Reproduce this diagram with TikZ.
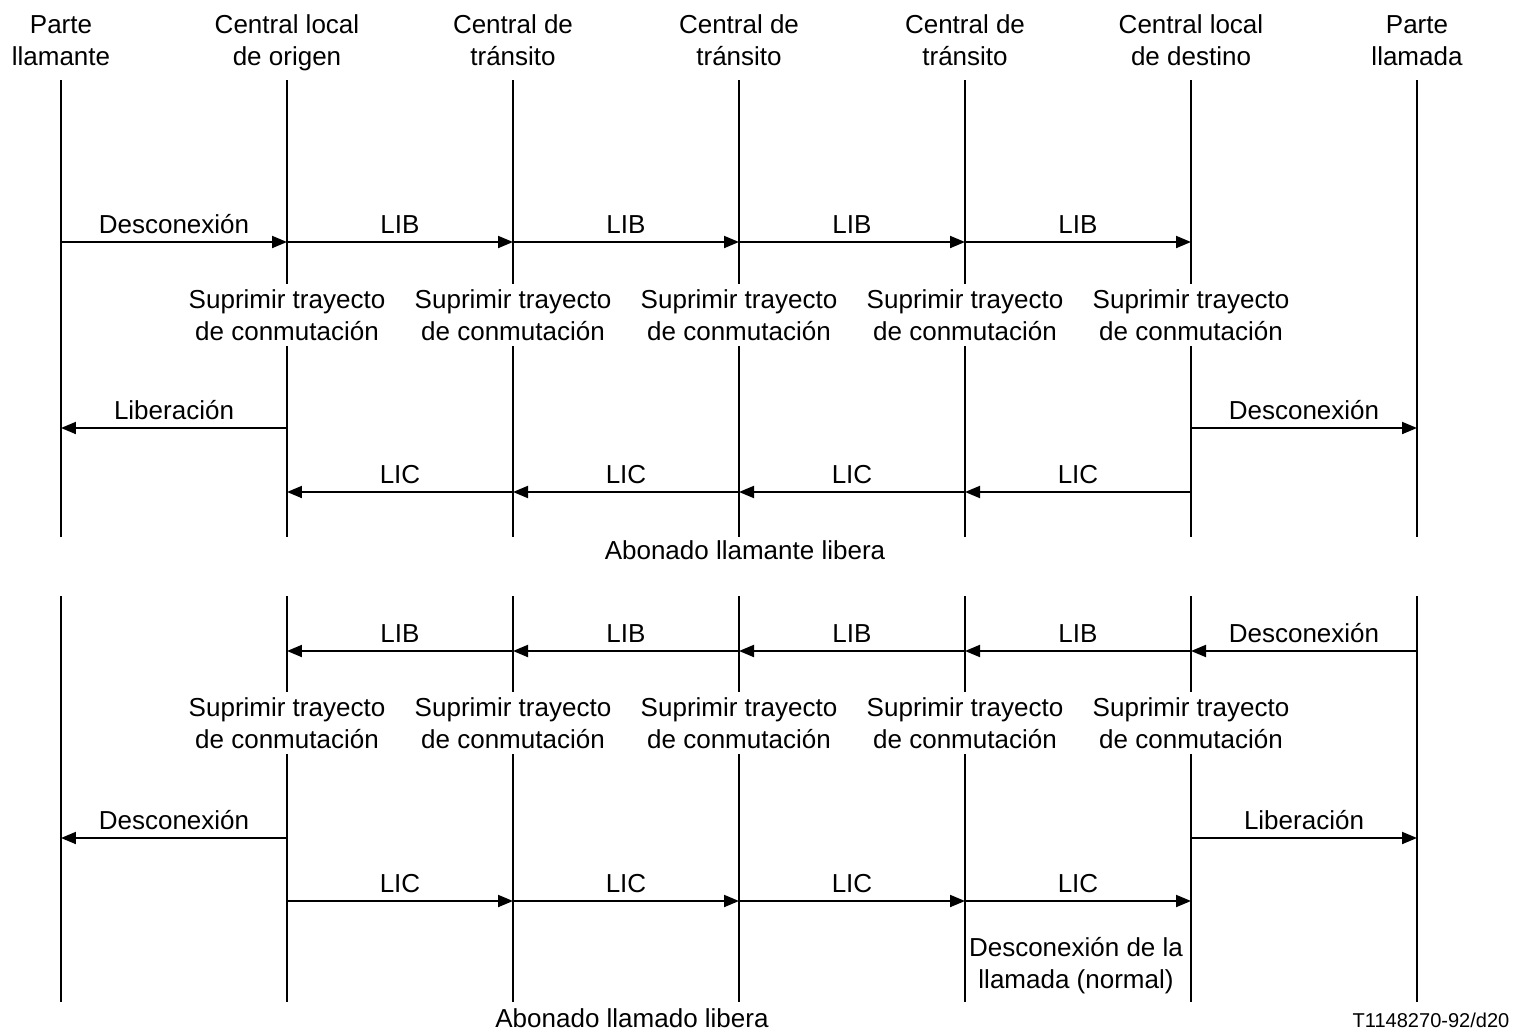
\documentclass[tikz,border=0pt]{standalone}
\usepackage{fontspec}
\setmainfont{Liberation Sans}
\usetikzlibrary{arrows.meta}

\tikzset{
  life/.style={line width=1.1pt},
  msg/.style={line width=1.1pt,-{Triangle[length=0.3cm,width=0.24cm]}},
  lbl/.style={anchor=base,yshift=5pt,inner sep=0pt},
  act/.style={fill=white,align=center,inner sep=3pt},
}

\begin{document}
\begin{tikzpicture}[x=0.02cm,y=-0.02cm,font=\fontsize{14.8}{18.2}\selectfont]
		\useasboundingbox (0,0) rectangle (1536,1031);
		%%%%% LIFELINES %%%%%
		\foreach \c/\x/\name in {1/61/{Parte\\llamante},2/287/{Central local\\de origen},
		    3/513/{Central de\\tránsito},4/739/{Central de\\tránsito},5/965/{Central de\\tránsito},
		    6/1191/{Central local\\de destino},7/1417/{Parte\\llamada}}{
			\node[align=center,anchor=north,inner sep=0pt] (h\c) at (\x,11) {\strut\name};
			\draw[life] (\x,80) -- (\x,537);
			\draw[life] (\x,596) -- (\x,1002);
			\foreach \r/\y in {1/242,2/315,3/428,4/492,5/651,6/723,7/838,8/901}
				\coordinate (p\c-\r) at (\x,\y);
		}
		
		%%%%% CALLING PARTY RELEASES %%%%%
		\draw[msg] (p1-1) -- node[lbl]{Desconexión} (p2-1);
		\foreach \i/\j in {2/3,3/4,4/5,5/6}
			\draw[msg] (p\i-1) -- node[lbl]{LIB} (p\j-1);
		\foreach \c in {2,...,6}
			\node[act] (s\c) at (p\c-2) {Suprimir trayecto\\de conmutación};
		\draw[msg] (p2-3) -- node[lbl]{Liberación} (p1-3);
		\draw[msg] (p6-3) -- node[lbl]{Desconexión} (p7-3);
		\foreach \i/\j in {6/5,5/4,4/3,3/2}
			\draw[msg] (p\i-4) -- node[lbl]{LIC} (p\j-4);
		\node (top) at (745,550) {Abonado llamante libera};
		
		%%%%% CALLED PARTY RELEASES %%%%%
		\draw[msg] (p7-5) -- node[lbl]{Desconexión} (p6-5);
		\foreach \i/\j in {6/5,5/4,4/3,3/2}
			\draw[msg] (p\i-5) -- node[lbl]{LIB} (p\j-5);
		\foreach \c in {2,...,6}
			\node[act] (t\c) at (p\c-6) {Suprimir trayecto\\de conmutación};
		\draw[msg] (p2-7) -- node[lbl]{Desconexión} (p1-7);
		\draw[msg] (p6-7) -- node[lbl]{Liberación} (p7-7);
		\foreach \i/\j in {2/3,3/4,4/5,5/6}
			\draw[msg] (p\i-8) -- node[lbl]{LIC} (p\j-8);
		\node[align=center] (norm) at (1076,966) {Desconexión de la\\llamada (normal)};
		\node (bot) at (632,1018) {Abonado llamado libera};
		
		\node[font=\fontsize{11.4}{13}\selectfont] (ref) at (1431,1020) {T1148270-92/d20};
	\end{tikzpicture}
\end{document}
